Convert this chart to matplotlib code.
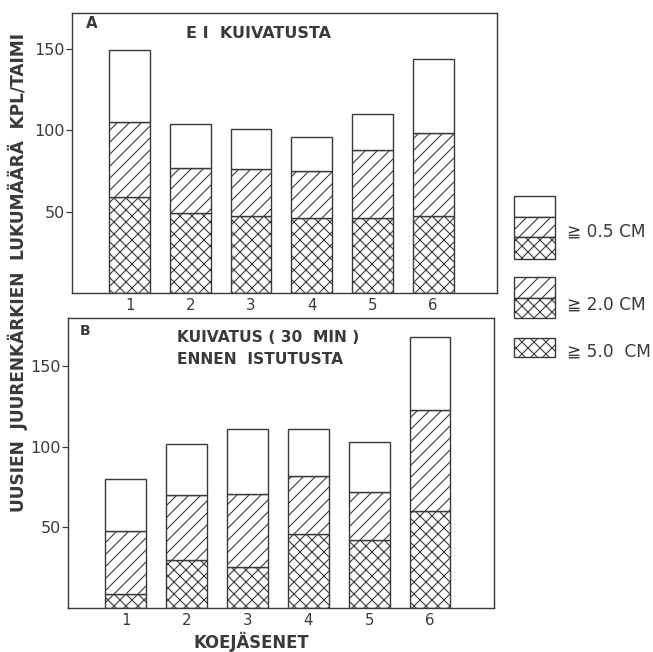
import numpy as np
import matplotlib
matplotlib.use('Agg')
import matplotlib.pyplot as plt
from matplotlib.patches import Rectangle

# Data (kpl/taimi), cumulative class limits
koejasenet = ['1', '2', '3', '4', '5', '6']
# A: ei kuivatusta
a_05 = [149, 104, 101, 96, 110, 144]   # >= 0.5 cm (total)
a_20 = [105, 77, 76, 75, 88, 98]       # >= 2.0 cm
a_50 = [59, 49, 47, 46, 46, 47]        # >= 5.0 cm
# B: kuivatus 30 min ennen istutusta
b_05 = [80, 102, 111, 111, 103, 168]
b_20 = [47.5, 70, 71, 82, 72, 123]
b_50 = [9, 29.5, 25.5, 46, 42.5, 60.5]

ink = '#3a3a3a'
W, H = 653, 652
plt.rcParams['font.family'] = 'DejaVu Sans'
plt.rcParams['hatch.linewidth'] = 1.1
plt.rcParams['hatch.color'] = ink

fig = plt.figure(figsize=(W/72, H/72), dpi=72)

def panel(rect, tot, mid, low, ylim):
    ax = fig.add_axes(rect)
    x = np.arange(1, 7)
    w = 0.67
    tot, mid, low = map(np.array, (tot, mid, low))
    ax.bar(x, low, w, color='white', edgecolor=ink, hatch='xx', lw=1.4)
    ax.bar(x, mid - low, w, bottom=low, color='white', edgecolor=ink, hatch='//', lw=1.4)
    ax.bar(x, tot - mid, w, bottom=mid, color='white', edgecolor=ink, lw=1.4)
    ax.set_xlim(0.05, 7.05)
    ax.set_ylim(*ylim)
    ax.set_xticks(x)
    ax.set_xticklabels(koejasenet)
    ax.set_yticks([50, 100, 150])
    ax.tick_params(axis='x', length=0, pad=5, labelsize=15, colors=ink)
    ax.tick_params(axis='y', length=6, width=1.2, pad=1, labelsize=16, colors=ink)
    for s in ax.spines.values():
        s.set_color(ink)
        s.set_linewidth(1.4)
    return ax

axA = panel([72/W, 1-293/H, (497-72)/W, (293-13)/H], a_05, a_20, a_50, (0, 172))
axB = panel([68/W, 1-608/H, (494-68)/W, (608-318)/H], b_05, b_20, b_50, (0, 180))

fig.text(92/W, 1-24/H, 'A', fontsize=15, fontweight='bold', color=ink, ha='center', va='center')
fig.text(258/W, 1-33/H, 'E I  KUIVATUSTA', fontsize=16, fontweight='bold', color=ink, ha='center', va='center')
fig.text(85/W, 1-331/H, 'B', fontsize=14, fontweight='bold', color=ink, ha='center', va='center')
fig.text(177/W, 1-337/H, 'KUIVATUS ( 30  MIN )', fontsize=15.5, fontweight='bold', color=ink, ha='left', va='center')
fig.text(177/W, 1-360/H, 'ENNEN  ISTUTUSTA', fontsize=15.5, fontweight='bold', color=ink, ha='left', va='center')

fig.text(18/W, 1-272/H, 'UUSIEN  JUURENKÄRKIEN  LUKUMÄÄRÄ  KPL/TAIMI', rotation=90,
         fontsize=17, fontweight='bold', color=ink, ha='center', va='center')
fig.text(251/W, 1-642/H, 'KOEJÄSENET', fontsize=16.5, fontweight='bold', color=ink, ha='center', va='center')

# legend drawn by hand
lg = fig.add_axes([0, 0, 1, 1])
lg.set_xlim(0, W)
lg.set_ylim(H, 0)
lg.axis('off')
def box(y0, y1, hatch):
    lg.add_patch(Rectangle((514, y0), 41, y1 - y0, facecolor='white', edgecolor=ink, hatch=hatch, lw=1.4))
box(196, 217, None); box(217, 237, '//'); box(237, 259, 'xx')
box(277, 298, '//'); box(298, 318, 'xx')
box(338, 357, 'xx')
for yy, t in [(232, '≧ 0.5 CM'), (305, '≧ 2.0 CM'), (352, '≧ 5.0  CM')]:
    lg.text(567, yy, t, fontsize=17, color=ink, ha='left', va='center')

fig.savefig('out.png', dpi=72)
